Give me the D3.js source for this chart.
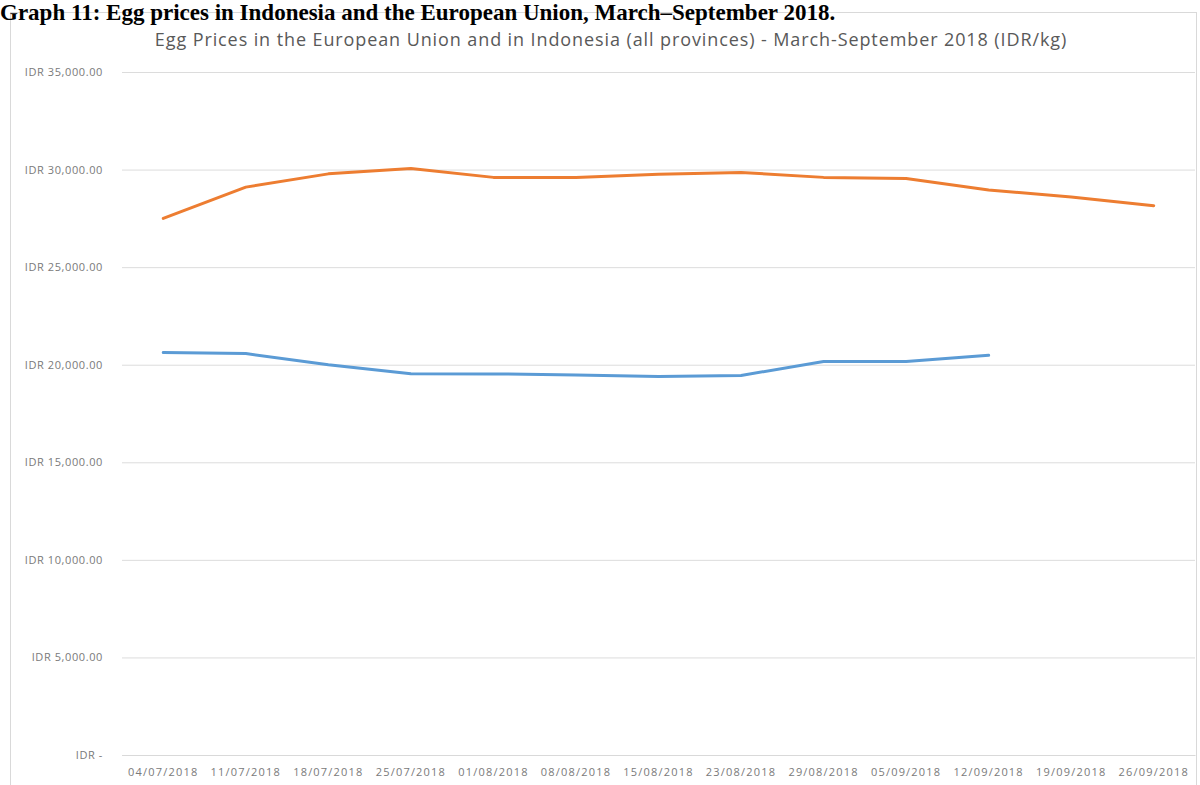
<!DOCTYPE html>
<html>
<head>
<meta charset="utf-8">
<script src="https://cdn.jsdelivr.net/npm/d3@7"></script>
<style>
  html, body { margin: 0; padding: 0; background: #fff; }
  svg { display: block; }
</style>
</head>
<body>
<svg id="chart" width="1200" height="785"></svg>
<script>
const dates = ["04/07/2018","11/07/2018","18/07/2018","25/07/2018","01/08/2018","08/08/2018","15/08/2018","23/08/2018","29/08/2018","05/09/2018","12/09/2018","19/09/2018","26/09/2018"];
const euPrices = [27500, 29100, 29780, 30060, 29600, 29600, 29760, 29850, 29600, 29540, 28950, 28600, 28150];
const idPrices = [20620, 20570, 20000, 19540, 19530, 19470, 19400, 19450, 20160, 20160, 20480, null, null];
const yTicks = [0, 5000, 10000, 15000, 20000, 25000, 30000, 35000];
const pageTitle = "Graph 11: Egg prices in Indonesia and the European Union, March–September 2018.";
const chartTitle = "Egg Prices in the European Union and in Indonesia (all provinces) - March-September 2018 (IDR/kg)";

(function () {
const svg = d3.select("#chart");
const mLeft = 122, mRight = 1195, mTop = 72, mBottom = 755;

svg.append("rect")
  .attr("x", 10.5).attr("y", 12.5).attr("width", 1186).attr("height", 780)
  .attr("fill", "#fff").attr("stroke", "#d9d9d9").attr("stroke-width", 1);

svg.append("text")
  .attr("x", 0).attr("y", 20)
  .attr("font-family", "Liberation Serif, Times New Roman, serif")
  .attr("font-weight", "bold").attr("font-size", 23)
  .attr("fill", "#000")
  .text(pageTitle);

svg.append("text")
  .attr("x", 611).attr("y", 46)
  .attr("text-anchor", "middle")
  .attr("font-family", "Open Sans, sans-serif")
  .attr("font-size", 18)
  .attr("letter-spacing", 0.9)
  .attr("fill", "#595959")
  .text(chartTitle);

const x = d3.scaleBand().domain(dates).range([mLeft, mRight]).padding(0);
const y = d3.scaleLinear().domain([0, 35000]).range([mBottom, mTop]);

const fmt = v => v === 0 ? "IDR -" : "IDR " + d3.format(",.2f")(v);

const yAxis = svg.append("g")
  .attr("transform", `translate(${mLeft},0)`)
  .call(d3.axisLeft(y).tickValues(yTicks).tickFormat(fmt).tickSize(-(mRight - mLeft)).tickPadding(19));
yAxis.select(".domain").remove();
yAxis.selectAll(".tick line").attr("stroke", "#dcdcdc").attr("stroke-width", 1);
yAxis.selectAll(".tick text")
  .attr("font-family", "Open Sans, sans-serif").attr("font-size", 11)
  .attr("letter-spacing", 0.6).attr("fill", "#7a7a7a");

const xAxis = svg.append("g")
  .attr("transform", `translate(0,${mBottom})`)
  .call(d3.axisBottom(x).tickSize(0).tickPadding(13));
xAxis.select(".domain").attr("stroke", "#d9d9d9");
xAxis.selectAll(".tick text")
  .attr("font-family", "Open Sans, sans-serif").attr("font-size", 11)
  .attr("letter-spacing", 1.2).attr("fill", "#7a7a7a");

const line = d3.line()
  .defined(d => d.v != null)
  .x(d => x(d.d) + x.bandwidth() / 2)
  .y(d => y(d.v));

svg.append("path")
  .datum(dates.map((d, i) => ({d, v: euPrices[i]})))
  .attr("d", line).attr("fill", "none")
  .attr("stroke", "#ED7D31").attr("stroke-width", 3).attr("stroke-linejoin", "round").attr("stroke-linecap", "round");

svg.append("path")
  .datum(dates.map((d, i) => ({d, v: idPrices[i]})))
  .attr("d", line).attr("fill", "none")
  .attr("stroke", "#5B9BD5").attr("stroke-width", 3).attr("stroke-linejoin", "round").attr("stroke-linecap", "round");
})();
</script>
</body>
</html>
